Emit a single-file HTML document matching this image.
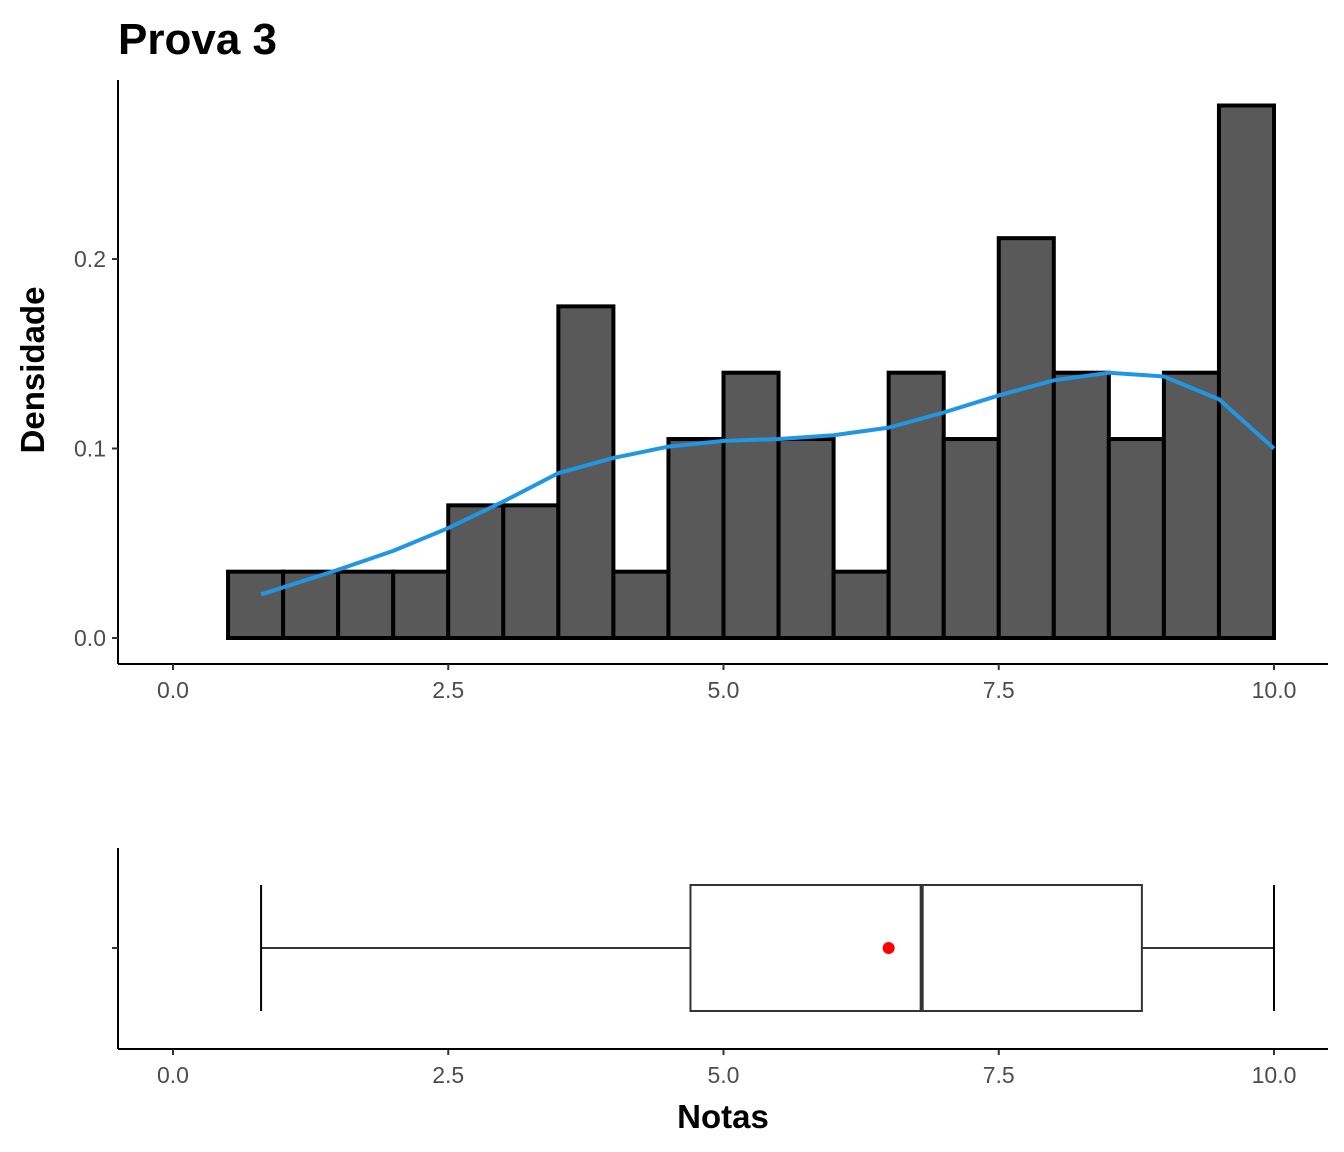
<!DOCTYPE html>
<html><head><meta charset="utf-8"><style>body{margin:0;background:#fff}svg{display:block;font-family:"Liberation Sans",sans-serif}</style></head>
<body>
<svg id="c" width="1344" height="1152"></svg>
<script>
const binStarts=[0,0.5,1,1.5,2,2.5,3,3.5,4,4.5,5,5.5,6,6.5,7,7.5,8,8.5,9,9.5];
const densities=[0,0.035,0.035,0.035,0.035,0.070,0.070,0.175,0.035,0.105,0.140,0.105,0.035,0.140,0.105,0.211,0.140,0.105,0.140,0.281];
const curveX=[0.8,1.5,2,2.5,3,3.5,4,4.5,5,5.5,6,6.5,7,7.5,8,8.5,9,9.5,10];
const curveY=[0.023,0.036,0.046,0.058,0.072,0.087,0.095,0.101,0.104,0.105,0.107,0.111,0.119,0.128,0.136,0.140,0.138,0.126,0.100];
const xTicks=[0,2.5,5,7.5,10];
const xTickLabels=["0.0","2.5","5.0","7.5","10.0"];
const yTicks=[0,0.1,0.2];
const yTickLabels=["0.0","0.1","0.2"];
const boxStats={min:0.8,q1:4.7,median:6.8,q3:8.8,max:10,mean:6.5};
const binWidth=0.5;
const X=v=>173+v*110.1, Y=v=>638-v*1895;
const svg=document.getElementById('c');const NS='http://www.w3.org/2000/svg';
function add(tag,attrs,name,text){const e=document.createElementNS(NS,tag);for(const k in attrs)e.setAttribute(k,attrs[k]);


if(text!==undefined)e.textContent=text;svg.appendChild(e);return e;}
add('text',{x:118,y:54,'font-size':44,'font-weight':'bold'},'chart-title','Prova 3');
binStarts.forEach((b,i)=>{const x0=X(b),x1=X(b+binWidth),y=Y(densities[i]);
add('rect',{x:x0,y:y,width:x1-x0,height:Y(0)-y,fill:'#595959',stroke:'#000','stroke-width':4},'histogram-bar');});
add('path',{d:curveX.map((v,i)=>(i?'L':'M')+X(v)+' '+Y(curveY[i])).join(''),fill:'none',stroke:'#2196e3','stroke-width':4},'density-curve');
add('line',{x1:118,y1:80,x2:118,y2:664,stroke:'#000','stroke-width':2},'y-axis');
add('line',{x1:118,y1:664,x2:1328,y2:664,stroke:'#000','stroke-width':2},'x-axis');
yTicks.forEach((t,i)=>{add('line',{x1:112,x2:118,y1:Y(t),y2:Y(t),stroke:'#333','stroke-width':2},'y-tick');
add('text',{x:106,y:Y(t)+8,'font-size':23,fill:'#4d4d4d','text-anchor':'end'},'y-tick-label',yTickLabels[i]);});
xTicks.forEach((t,i)=>{add('line',{x1:X(t),x2:X(t),y1:664,y2:670,stroke:'#333','stroke-width':2},'x-tick');
add('text',{x:X(t),y:698,'font-size':23,fill:'#4d4d4d','text-anchor':'middle'},'x-tick-label',xTickLabels[i]);
add('line',{x1:X(t),x2:X(t),y1:1049,y2:1055,stroke:'#333','stroke-width':2},'box-x-tick');
add('text',{x:X(t),y:1083,'font-size':23,fill:'#4d4d4d','text-anchor':'middle'},'box-x-tick-label',xTickLabels[i]);});
add('text',{x:0,y:0,'font-size':33,'font-weight':'bold','text-anchor':'middle',transform:'translate(44,370) rotate(-90)'},'y-axis-title','Densidade');
// boxplot
const cy=948;
add('line',{x1:118,y1:848,x2:118,y2:1049,stroke:'#000','stroke-width':2},'box-y-axis');
add('line',{x1:118,y1:1049,x2:1328,y2:1049,stroke:'#000','stroke-width':2},'box-x-axis');
add('line',{x1:112,x2:118,y1:cy,y2:cy,stroke:'#333','stroke-width':2},'box-y-tick');
add('line',{x1:X(boxStats.min),x2:X(boxStats.q1),y1:cy,y2:cy,stroke:'#333','stroke-width':2},'lower-whisker');
add('line',{x1:X(boxStats.q3),x2:X(boxStats.max),y1:cy,y2:cy,stroke:'#333','stroke-width':2},'upper-whisker');
add('line',{x1:X(boxStats.min),x2:X(boxStats.min),y1:885,y2:1011,stroke:'#000','stroke-width':2},'min-cap');
add('line',{x1:X(boxStats.max),x2:X(boxStats.max),y1:885,y2:1011,stroke:'#000','stroke-width':2},'max-cap');
add('rect',{x:X(boxStats.q1),y:885,width:X(boxStats.q3)-X(boxStats.q1),height:126,fill:'#fff',stroke:'#333','stroke-width':2},'box');
add('line',{x1:X(boxStats.median),x2:X(boxStats.median),y1:885,y2:1011,stroke:'#333','stroke-width':4},'median-line');
add('circle',{cx:X(boxStats.mean),cy:cy,r:6,fill:'#f00'},'mean-point');
add('text',{x:723,y:1128,'font-size':33,'font-weight':'bold','text-anchor':'middle'},'x-axis-title','Notas');
</script>
</body></html>
